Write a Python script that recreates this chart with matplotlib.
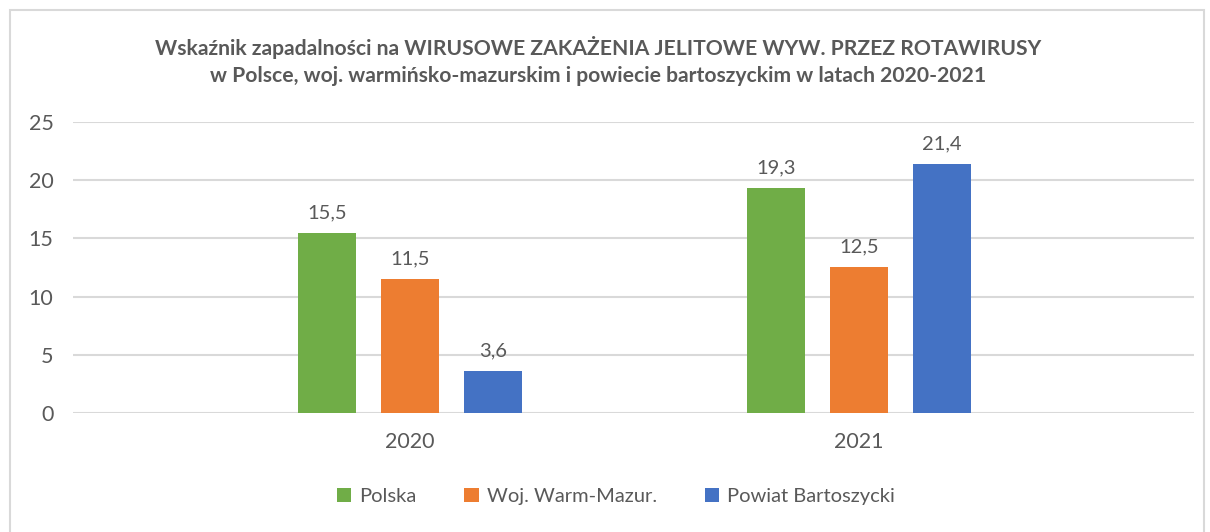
import numpy as np
import matplotlib.pyplot as plt
from matplotlib.patches import Rectangle

years = ["2020", "2021"]
series_names = ["Polska", "Woj. Warm-Mazur.", "Powiat Bartoszycki"]
polska = [15.5, 19.3]
woj = [11.5, 12.5]
powiat = [3.6, 21.4]
colors = ["#70AD47", "#ED7D31", "#4472C4"]

plt.rcParams['font.family'] = ['Lato', 'DejaVu Sans']
text_color = "#595959"

fig = plt.figure(figsize=(12.1, 5.32), dpi=100)
ax = fig.add_axes([0.0603, 0.2237, 0.9265, 0.547])

# chart frame
fig.patches.append(Rectangle((10 / 1210, -0.05), 1194 / 1210, 1 - 10 / 532 + 0.05,
                             transform=fig.transFigure, fill=False,
                             edgecolor="#D9D9D9", linewidth=1.5))

x = np.arange(len(years))
width = 0.129
step = 0.185
for i, (vals, name) in enumerate(zip([polska, woj, powiat], series_names)):
    pos = x + (i - 1) * step
    bars = ax.bar(pos, vals, width, color=colors[i], label=name, zorder=3)
    for b, v in zip(bars, vals):
        ax.text(b.get_x() + b.get_width() / 2, v + 1.0, f"{v:.1f}".replace(".", ","),
                ha="center", va="bottom", fontsize=14.5, color=text_color)

ax.set_ylim(0, 25)
ax.set_xlim(-0.75, 1.746)
ax.set_yticks(range(0, 26, 5))
ax.set_xticks(x)
ax.set_xticklabels(years)
ax.yaxis.grid(True, color="#D9D9D9", linewidth=1.5, zorder=0)
ax.set_axisbelow(True)
for s in ["top", "right", "left", "bottom"]:
    ax.spines[s].set_visible(False)
ax.tick_params(axis="both", length=0, labelsize=15.5, labelcolor=text_color)
ax.tick_params(axis="y", pad=14)
ax.tick_params(axis="x", pad=14)

fig.text(0.494, 0.886,
         "Wskaźnik zapadalności na WIRUSOWE ZAKAŻENIA JELITOWE WYW. PRZEZ ROTAWIRUSY\n"
         "w Polsce, woj. warmińsko-mazurskim i powiecie bartoszyckim w latach 2020-2021",
         ha="center", va="center", fontsize=15.2, fontweight="bold", color=text_color,
         linespacing=1.45)

leg = fig.legend(loc="center", bbox_to_anchor=(0.509, 0.066), ncol=3, frameon=False,
                 fontsize=14.5, handlelength=0.7, handleheight=0.7, columnspacing=2.4,
                 handletextpad=0.4)
for t in leg.get_texts():
    t.set_color(text_color)

fig.savefig("out.png", dpi=100)
